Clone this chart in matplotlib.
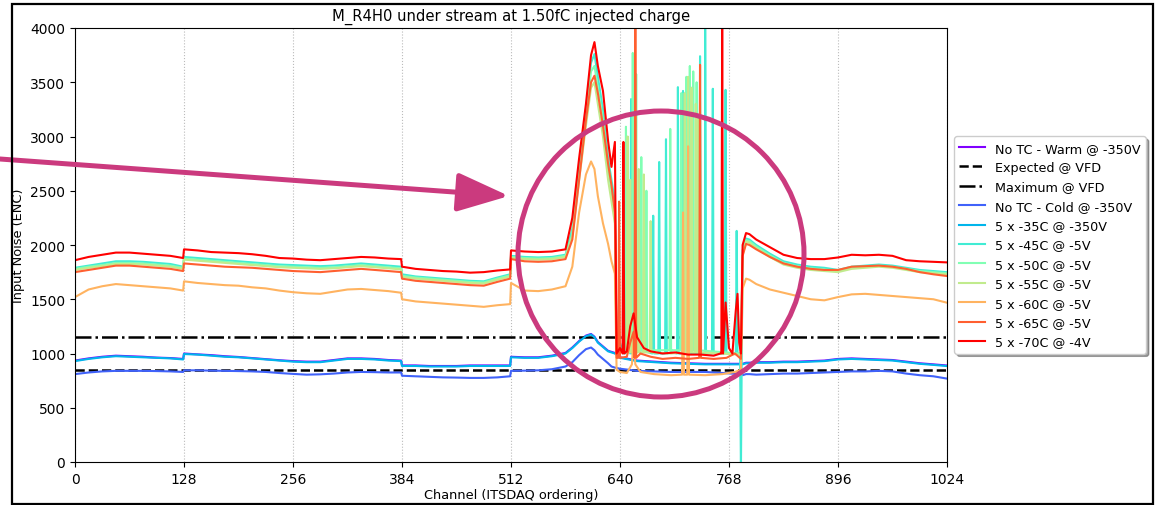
import matplotlib
matplotlib.use("Agg")
import matplotlib.pyplot as plt
import matplotlib.patches as mpatches
import numpy as np

TITLE = "M_R4H0 under stream at 1.50fC injected charge"
EXPECTED_VFD = 850
MAXIMUM_VFD = 1150

# channel anchors (left flat part + first peak, right flat part)
CH_LEFT = [0, 16, 32, 48, 64, 80, 96, 112, 127, 128, 144, 160, 176, 192, 208, 224,
           240, 256, 272, 288, 304, 320, 336, 352, 368, 383, 384, 400, 416, 432, 448,
           464, 480, 496, 511, 512, 528, 544, 560, 576, 584, 592, 600, 606, 610, 614,
           620, 626, 630, 634]
CH_RIGHT = [784, 788, 792, 800, 816, 832, 848, 864, 880, 896, 912, 928, 944, 960,
            976, 992, 1008, 1023]

# Each run: left values (on CH_LEFT), floor of the unstable region 636-783
# (channels + values), spikes (channel, top) in that region with the level they
# start from, right values (on CH_RIGHT).

# --- No TC - Warm @ -350V
WARM_L = [935, 955, 970, 980, 975, 970, 962, 958, 950, 1000, 992, 985, 975, 968, 958, 948,
          938, 930, 925, 925, 940, 955, 955, 950, 940, 935, 890, 890, 885, 885, 885,
          890, 890, 890, 890, 970, 965, 965, 980, 1005, 1055, 1115, 1165, 1180, 1155, 1105,
          1065, 1025, 1015, 1005]
WARM_FCH = [640, 660, 700, 740, 782]
WARM_F = [965, 935, 915, 905, 905]
WARM_R = [905, 915, 915, 920, 920, 925, 925, 930, 935, 950, 955, 950, 945, 940, 925, 910, 900, 890]

# --- No TC - Cold @ -350V
COLD_L = [810, 825, 835, 840, 840, 840, 838, 835, 830, 845, 845, 842, 840, 838, 835, 830,
          820, 812, 805, 808, 815, 825, 830, 828, 825, 825, 795, 790, 785, 780, 778,
          775, 775, 780, 790, 840, 842, 845, 855, 880, 920, 985, 1040, 1055, 1030, 990,
          950, 910, 880, 870]
COLD_FCH = [640, 660, 700, 740, 782]
COLD_F = [860, 840, 830, 830, 810]
COLD_R = [800, 810, 810, 805, 810, 815, 815, 820, 825, 830, 835, 835, 840, 835, 815, 800, 790, 770]

# --- 5 x -35C @ -350V
C35_L = [930, 950, 965, 975, 970, 965, 960, 955, 945, 995, 990, 980, 970, 965, 955, 945,
         935, 925, 920, 920, 935, 950, 950, 945, 935, 930, 885, 885, 880, 880, 880,
         885, 885, 885, 885, 965, 960, 960, 975, 1000, 1050, 1110, 1160, 1175, 1150, 1100,
         1060, 1020, 1010, 1000]
C35_FCH = [640, 660, 700, 740, 782]
C35_F = [960, 930, 910, 900, 900]
C35_R = [900, 910, 910, 915, 915, 920, 920, 925, 930, 945, 950, 945, 940, 935, 920, 905, 895, 885]

# --- 5 x -45C @ -5V
C45_L = [1790, 1810, 1830, 1850, 1850, 1845, 1835, 1825, 1800, 1890, 1880, 1870, 1860, 1850,
         1840, 1830, 1820, 1815, 1810, 1805, 1810, 1820, 1830, 1820, 1810, 1800, 1730, 1710,
         1700, 1690, 1680, 1670, 1665, 1700, 1730, 1900, 1890, 1885, 1890, 1910, 2150, 2700,
         3250, 3680, 3760, 3550, 3250, 2800, 2600, 2400]
C45_FCH = [636, 640, 652, 665, 680, 700, 720, 740, 760, 780]
C45_F = [1050, 1100, 1050, 1030, 1020, 1010, 1000, 1000, 1000, 1000]
C45_SPIKES = [(645, 2400), (653, 3345), (679, 2270), (686, 2765), (694, 2975), (708, 3455),
              (714, 3420), (734, 3740), (740, 4100), (749, 3440), (764, 3430), (777, 2130),
              (782, -100)]
C45_FOOT = 1000
C45_R = [1950, 2060, 2050, 2000, 1920, 1850, 1820, 1800, 1790, 1770, 1800, 1810, 1820, 1810,
         1790, 1770, 1760, 1750]

# --- 5 x -50C @ -5V
C50_L = [1780, 1800, 1815, 1835, 1835, 1830, 1820, 1810, 1790, 1875, 1865, 1855, 1845, 1835,
         1825, 1815, 1805, 1800, 1795, 1790, 1795, 1805, 1815, 1805, 1795, 1785, 1715, 1700,
         1690, 1680, 1670, 1660, 1655, 1690, 1720, 1890, 1880, 1875, 1880, 1900, 2100, 2650,
         3200, 3600, 3650, 3450, 3150, 2700, 2500, 2300]
C50_FCH = [636, 700, 782]
C50_F = [1040, 1020, 1000]
C50_SPIKES = [(647, 3090), (655, 3770), (659, 3575), (665, 2810), (671, 2500), (699, 3070),
              (712, 3400), (718, 3550), (722, 3650), (726, 3600), (730, 3500)]
C50_FOOT = 1030
C50_R = [1930, 2045, 2035, 1985, 1905, 1835, 1805, 1785, 1775, 1760, 1790, 1800, 1810, 1800,
         1780, 1760, 1750, 1740]

# --- 5 x -55C @ -5V
C55_L = [1770, 1790, 1805, 1825, 1825, 1820, 1810, 1800, 1780, 1865, 1855, 1845, 1835, 1825,
         1815, 1805, 1795, 1790, 1785, 1780, 1785, 1795, 1805, 1795, 1785, 1775, 1705, 1690,
         1680, 1670, 1660, 1650, 1645, 1680, 1710, 1880, 1870, 1865, 1870, 1890, 2080, 2600,
         3100, 3450, 3500, 3300, 3000, 2600, 2400, 2200]
C55_FCH = [636, 700, 782]
C55_F = [1020, 1000, 990]
C55_SPIKES = [(649, 3000), (652, 2600), (662, 2700), (668, 2650), (676, 2220), (716, 3400),
              (720, 3550), (724, 3450), (729, 3300), (732, 3200)]
C55_FOOT = 1010
C55_R = [1910, 2030, 2020, 1970, 1890, 1820, 1790, 1770, 1760, 1750, 1780, 1790, 1800, 1790,
         1770, 1750, 1740, 1730]

# --- 5 x -60C @ -5V
C60_L = [1520, 1590, 1620, 1640, 1630, 1620, 1610, 1600, 1580, 1665, 1650, 1640, 1630, 1625,
         1610, 1600, 1580, 1565, 1555, 1550, 1570, 1590, 1595, 1585, 1575, 1560, 1500, 1480,
         1470, 1460, 1450, 1440, 1430, 1445, 1455, 1650, 1580, 1575, 1590, 1620, 1800, 2300,
         2650, 2770, 2700, 2450, 2200, 2010, 1850, 1735]
C60_FCH = [636, 640, 648, 654, 656, 658, 664, 680, 700, 740, 760, 775, 782]
C60_F = [850, 830, 820, 900, 1150, 900, 830, 810, 800, 800, 810, 830, 850]
C60_SPIKES = [(714, 2300), (720, 2910)]
C60_FOOT = 805
C60_R = [1600, 1690, 1680, 1640, 1590, 1560, 1530, 1500, 1490, 1520, 1545, 1550, 1540, 1530,
         1520, 1510, 1500, 1470]

# --- 5 x -65C @ -5V
C65_L = [1750, 1770, 1790, 1810, 1810, 1800, 1790, 1780, 1760, 1830, 1820, 1810, 1800, 1795,
         1790, 1780, 1770, 1760, 1755, 1750, 1760, 1770, 1780, 1770, 1760, 1750, 1690, 1670,
         1660, 1650, 1640, 1630, 1625, 1660, 1690, 1870, 1850, 1845, 1850, 1870, 2050, 2600,
         3150, 3500, 3560, 3400, 3100, 2750, 2550, 2300]
C65_FCH = [636, 640, 648, 652, 656, 664, 676, 690, 705, 720, 750, 765, 775, 782]
C65_F = [960, 960, 970, 1100, 1200, 1000, 970, 950, 960, 950, 950, 960, 1000, 950]
C65_SPIKES = [(639, 2400), (658, 4100), (734, 3660)]
C65_FOOT = 960
C65_R = [1900, 2010, 2000, 1960, 1890, 1830, 1800, 1780, 1770, 1770, 1800, 1805, 1810, 1800,
         1780, 1750, 1730, 1715]

# --- 5 x -70C @ -4V
C70_L = [1860, 1890, 1910, 1930, 1930, 1920, 1910, 1900, 1880, 1960, 1950, 1935, 1930, 1925,
         1915, 1900, 1880, 1875, 1865, 1860, 1870, 1880, 1890, 1885, 1875, 1870, 1800, 1780,
         1770, 1760, 1755, 1745, 1750, 1765, 1775, 1950, 1940, 1935, 1940, 1960, 2250, 2800,
         3300, 3750, 3870, 3650, 3420, 2960, 2720, 2950]
C70_FCH = [636, 640, 648, 652, 656, 660, 664, 668, 676, 690, 705, 720, 735, 750, 758, 764,
           768, 772, 776, 778, 780, 782]
C70_F = [1000, 1050, 1020, 1250, 1370, 1150, 1100, 1050, 1020, 1000, 1010, 990, 990, 980,
         1000, 1470, 1050, 1000, 1400, 1550, 1100, 1000]
C70_SPIKES = [(644, 2950), (760, 4100)]
C70_FOOT = 1000
C70_R = [2000, 2110, 2100, 2050, 1980, 1910, 1880, 1870, 1870, 1885, 1910, 1905, 1910, 1900,
         1860, 1850, 1845, 1840]

LABELS = ["No TC - Warm @ -350V", "No TC - Cold @ -350V", "5 x -35C @ -350V",
          "5 x -45C @ -5V", "5 x -50C @ -5V", "5 x -55C @ -5V", "5 x -60C @ -5V",
          "5 x -65C @ -5V", "5 x -70C @ -4V"]

MAGENTA = "#cb3a7e"


def build(left, floor_ch, floor_v, right, spikes=(), foot=0):
    pts = list(zip(CH_LEFT, left)) + list(zip(floor_ch, floor_v)) + list(zip(CH_RIGHT, right))
    for c, top in spikes:
        pts += [(c - 1, foot), (c, top), (c + 1, foot)]
    pts.sort(key=lambda p: p[0])
    return [p[0] for p in pts], [p[1] for p in pts]


runs = [
    build(WARM_L, WARM_FCH, WARM_F, WARM_R),
    build(COLD_L, COLD_FCH, COLD_F, COLD_R),
    build(C35_L, C35_FCH, C35_F, C35_R),
    build(C45_L, C45_FCH, C45_F, C45_R, C45_SPIKES, C45_FOOT),
    build(C50_L, C50_FCH, C50_F, C50_R, C50_SPIKES, C50_FOOT),
    build(C55_L, C55_FCH, C55_F, C55_R, C55_SPIKES, C55_FOOT),
    build(C60_L, C60_FCH, C60_F, C60_R, C60_SPIKES, C60_FOOT),
    build(C65_L, C65_FCH, C65_F, C65_R, C65_SPIKES, C65_FOOT),
    build(C70_L, C70_FCH, C70_F, C70_R, C70_SPIKES, C70_FOOT),
]

fig = plt.figure(figsize=(11.56, 5.06), dpi=100)
ax = fig.add_axes([75 / 1156, 43 / 506, 872 / 1156, 434 / 506])

cols = plt.cm.rainbow(np.linspace(0, 1, 9))
lw = 1.5

for i, ((x, y), label) in enumerate(zip(runs, LABELS)):
    ax.plot(x, y, color=cols[i], lw=lw, label=label)
    if i == 0:
        ax.axhline(EXPECTED_VFD, color="black", ls="--", lw=1.8, label="Expected @ VFD")
        ax.axhline(MAXIMUM_VFD, color="black", ls="-.", lw=1.8, label="Maximum @ VFD")

ax.set_xlim(0, 1024)
ax.set_ylim(0, 4000)
ax.set_xticks(np.arange(0, 1025, 128))
ax.set_yticks(np.arange(0, 4001, 500))
ax.grid(axis="x", ls=":", color="#bbbbbb", lw=0.8)
ax.set_title(TITLE, fontsize=10.6)
ax.set_xlabel("Channel (ITSDAQ ordering)", fontsize=9.3, labelpad=2)
ax.set_ylabel("Input Noise (ENC)", fontsize=9.3)
ax.tick_params(labelsize=10)
ax.legend(loc="center left", bbox_to_anchor=(1.004, 0.5), fontsize=9.2, shadow=True,
          borderaxespad=0.3)

# screenshot frame and highlight annotations
fig.add_artist(mpatches.Rectangle((12 / 1156, 1 / 506), 1141 / 1156, 500 / 506,
                                  transform=fig.transFigure, fill=False, ec="black", lw=1.6))
fig.add_artist(mpatches.Ellipse((661 / 1156, 1 - 255 / 506), 286 / 1156, 286 / 506,
                                transform=fig.transFigure, fill=False, ec=MAGENTA, lw=3.6,
                                zorder=10))
ax.annotate("", xy=(509, 506 - 197), xytext=(0, 506 - 160),
            xycoords="figure pixels", textcoords="figure pixels", annotation_clip=False,
            arrowprops=dict(arrowstyle="-|>,head_length=1.6,head_width=0.6", lw=3.6,
                            color=MAGENTA, shrinkA=0, shrinkB=0, mutation_scale=20))

fig.savefig("out.png", dpi=100)
